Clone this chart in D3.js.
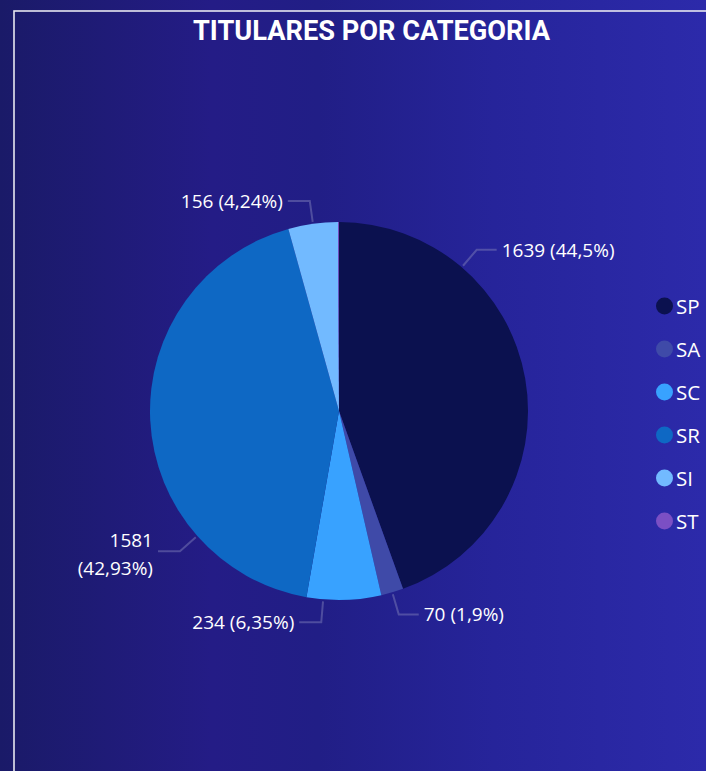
<!DOCTYPE html>
<html><head><meta charset="utf-8">
<script src="https://cdn.jsdelivr.net/npm/d3@7"></script>
<style>html,body{margin:0;padding:0;overflow:hidden;background:#1f1e80}</style>
</head><body>
<svg id="c" width="706" height="771"></svg>
<script>
const categories = ["SP","SA","SC","SR","SI","ST"];
const values = [1639, 70, 234, 1581, 156, 3];
const colors = ["#0b114f","#3f4aa8","#38a2ff","#0e68c4","#72baff","#7b4fc4"];
const title = "TITULARES POR CATEGORIA";

const W = 706, H = 771;
const svg = d3.select("#c");
const defs = svg.append("defs");
const g = defs.append("linearGradient").attr("id","bg").attr("x1","0").attr("x2","1").attr("y1","0").attr("y2","0");
[[0,"#1a1a68"],[0.3,"#241c86"],[0.45,"#211e86"],[0.7,"#26249a"],[1,"#2c2aaa"]].forEach(([o,c])=>g.append("stop").attr("offset",o).attr("stop-color",c));
svg.append("rect").attr("width",W).attr("height",H).attr("fill","url(#bg)");
svg.append("rect").attr("x",14).attr("y",11).attr("width",W+20).attr("height",H+20)
  .attr("fill","none").attr("stroke","#e6e6f0").attr("stroke-width",1.6);

svg.append("text").attr("x",371.5).attr("y",40).attr("text-anchor","middle")
  .attr("font-family","Roboto").attr("font-weight",700).attr("font-size",28)
  .attr("textLength",357).attr("lengthAdjust","spacingAndGlyphs")
  .attr("fill","#fff").text(title);

const cx = 339, cy = 411, R = 189;
const total = d3.sum(values);
const data = categories.map((c,i)=>({cat:c, value:values[i], color:colors[i]}));
const pie = d3.pie().sort(null).value(d=>d.value);
const arcs = pie(data);
const arc = d3.arc().innerRadius(0).outerRadius(R);
const gp = svg.append("g").attr("transform",`translate(${cx},${cy})`);
gp.selectAll("path").data(arcs).enter().append("path").attr("d",arc).attr("fill",d=>d.data.color);

// labels
const fmtPct = v => (Math.round(v*10000)/100).toFixed(2).replace(/\.?0+$/,"").replace(".",",");
const labelAngle = {SP:40.5, SR:228.6, SC:184.8}; // Power BI-like label shift for large slices
const rad = Math.PI/180;
arcs.forEach(a=>{
  const cat = a.data.cat;
  if (cat === "ST") return;
  const mid = (a.startAngle + a.endAngle)/2/rad;
  const ang = (labelAngle[cat] !== undefined ? labelAngle[cat] : mid) * rad;
  const p0 = [Math.sin(ang)*(R+2), -Math.cos(ang)*(R+2)];
  const p1 = [Math.sin(ang)*212, -Math.cos(ang)*212];
  const right = Math.sin(ang) > 0;
  const p2 = [p1[0] + (right?20:-22), p1[1]];
  gp.append("polyline").attr("points",[p0,p1,p2].map(p=>p.join(",")).join(" "))
    .attr("fill","none").attr("stroke","#7c7cb8").attr("stroke-opacity",0.5).attr("stroke-width",2);
  const txt = `${a.data.value} (${fmtPct(a.data.value/total)}%)`;
  const tx = p2[0] + (right?5:-5);
  const t = gp.append("text").attr("fill","#fff").attr("font-family","Open Sans").attr("font-size",19)
    .attr("text-anchor", right?"start":"end");
  if (cat === "SR") {
    t.append("tspan").attr("x",tx).attr("y",p2[1]-4).text(a.data.value);
    t.append("tspan").attr("x",tx).attr("y",p2[1]+24).text(`(${fmtPct(a.data.value/total)}%)`);
  } else {
    t.attr("x",tx).attr("y",p2[1]+7).text(txt);
  }
});

// legend
const lg = svg.append("g");
const ly = d3.scalePoint().domain(categories).range([306,521]);
categories.forEach((c,i)=>{
  lg.append("circle").attr("cx",664.5).attr("cy",ly(c)).attr("r",8.5).attr("fill",colors[i]);
  lg.append("text").attr("x",676).attr("y",ly(c)+7.5).attr("fill","#fff")
    .attr("font-family","Open Sans").attr("font-size",20.5).text(c);
});
</script>
</body></html>
